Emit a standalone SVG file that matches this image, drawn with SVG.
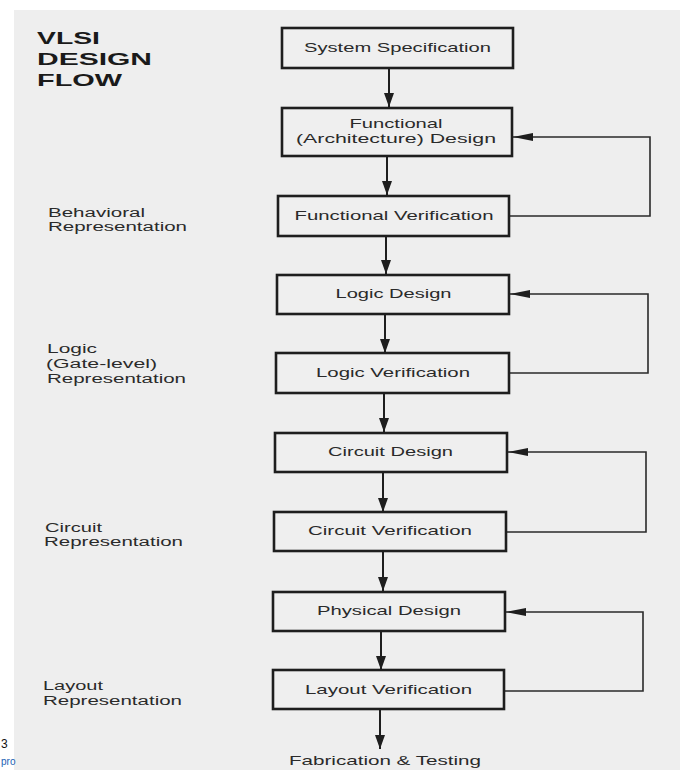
<svg xmlns="http://www.w3.org/2000/svg" width="680" height="770" viewBox="0 0 680 770">
<style>
.bg{fill:#eeeeee}
.box{fill:#efefef;stroke:#1e1e1e;stroke-width:2.6}
.t{font-family:"Liberation Sans",Arial,sans-serif;font-size:13px;fill:#2a2a2a;text-anchor:middle}
.lbl{font-family:"Liberation Sans",Arial,sans-serif;font-size:12.5px;fill:#2a2a2a}
.title{font-family:"Liberation Sans",Arial,sans-serif;font-size:17px;font-weight:bold;fill:#1a1a1a}
.down{fill:none;stroke:#1e1e1e;stroke-width:2;marker-end:url(#ad)}
.fb{fill:none;stroke:#2a2a2a;stroke-width:1.6;marker-end:url(#af)}
</style>
<defs>
<marker id="ad" markerUnits="userSpaceOnUse" markerWidth="14" markerHeight="10" refX="14" refY="5" orient="auto"><path d="M0,0 L14,5 L0,10 z" fill="#1e1e1e"/></marker>
<marker id="af" markerUnits="userSpaceOnUse" markerWidth="20" markerHeight="8" refX="20" refY="4" orient="auto"><path d="M0,0 L20,4 L0,8 z" fill="#1e1e1e"/></marker>
</defs>
<rect x="0" y="0" width="680" height="770" fill="#ffffff"/>
<rect class="bg" x="14" y="10" width="666" height="760"/>

<g id="title">
<text class="title" x="37" y="44" textLength="63" lengthAdjust="spacingAndGlyphs">VLSI</text>
<text class="title" x="37" y="65" textLength="115" lengthAdjust="spacingAndGlyphs">DESIGN</text>
<text class="title" x="37" y="86" textLength="85" lengthAdjust="spacingAndGlyphs">FLOW</text>
</g>

<g id="labels">
<g id="behavioral">
<text class="lbl" x="48" y="217" textLength="97" lengthAdjust="spacingAndGlyphs">Behavioral</text>
<text class="lbl" x="48" y="231" textLength="139" lengthAdjust="spacingAndGlyphs">Representation</text>
</g>
<g id="logic-rep">
<text class="lbl" x="47" y="353" textLength="50" lengthAdjust="spacingAndGlyphs">Logic</text>
<text class="lbl" x="46" y="368" textLength="111" lengthAdjust="spacingAndGlyphs">(Gate-level)</text>
<text class="lbl" x="47" y="383" textLength="139" lengthAdjust="spacingAndGlyphs">Representation</text>
</g>
<g id="circuit-rep">
<text class="lbl" x="45" y="532" textLength="57" lengthAdjust="spacingAndGlyphs">Circuit</text>
<text class="lbl" x="44" y="546" textLength="139" lengthAdjust="spacingAndGlyphs">Representation</text>
</g>
<g id="layout-rep">
<text class="lbl" x="43" y="690" textLength="60" lengthAdjust="spacingAndGlyphs">Layout</text>
<text class="lbl" x="43" y="705" textLength="139" lengthAdjust="spacingAndGlyphs">Representation</text>
</g>
</g>

<g id="connectors">
<path class="down" d="M389,69 V107"/>
<path class="down" d="M387,157 V195"/>
<path class="down" d="M386,237 V274"/>
<path class="down" d="M385,315 V353"/>
<path class="down" d="M384,394 V432"/>
<path class="down" d="M383,473 V512"/>
<path class="down" d="M383,552 V591"/>
<path class="down" d="M381,632 V670"/>
<path class="down" d="M380,710 V749"/>
<path class="fb" d="M510,216 H650 V137 H513"/>
<path class="fb" d="M510,373 H648 V294 H510"/>
<path class="fb" d="M507,532 H646 V452 H508"/>
<path class="fb" d="M505,691 H643 V612 H506"/>
</g>

<g id="n-system-spec">
<rect class="box" x="282" y="28" width="231" height="40"/>
<text class="t" x="397.5" y="52" textLength="187" lengthAdjust="spacingAndGlyphs">System Specification</text>
</g>
<g id="n-functional-design">
<rect class="box" x="282" y="108" width="230" height="48"/>
<text class="t" x="396" y="128" textLength="93" lengthAdjust="spacingAndGlyphs">Functional</text>
<text class="t" x="396" y="143" textLength="200" lengthAdjust="spacingAndGlyphs">(Architecture) Design</text>
</g>
<g id="n-functional-verification">
<rect class="box" x="278" y="196" width="231" height="40"/>
<text class="t" x="394" y="220" textLength="199" lengthAdjust="spacingAndGlyphs">Functional Verification</text>
</g>
<g id="n-logic-design">
<rect class="box" x="277" y="275" width="232" height="39"/>
<text class="t" x="393.5" y="298" textLength="116" lengthAdjust="spacingAndGlyphs">Logic Design</text>
</g>
<g id="n-logic-verification">
<rect class="box" x="276" y="353" width="233" height="40"/>
<text class="t" x="393" y="377" textLength="154" lengthAdjust="spacingAndGlyphs">Logic Verification</text>
</g>
<g id="n-circuit-design">
<rect class="box" x="275" y="433" width="232" height="39"/>
<text class="t" x="390.5" y="456" textLength="125" lengthAdjust="spacingAndGlyphs">Circuit Design</text>
</g>
<g id="n-circuit-verification">
<rect class="box" x="274" y="512" width="232" height="39"/>
<text class="t" x="390" y="535" textLength="164" lengthAdjust="spacingAndGlyphs">Circuit Verification</text>
</g>
<g id="n-physical-design">
<rect class="box" x="273" y="592" width="232" height="39"/>
<text class="t" x="389" y="615" textLength="144" lengthAdjust="spacingAndGlyphs">Physical Design</text>
</g>
<g id="n-layout-verification">
<rect class="box" x="273" y="670" width="231" height="39"/>
<text class="t" x="388.5" y="694" textLength="167" lengthAdjust="spacingAndGlyphs">Layout Verification</text>
</g>
<g id="n-fabrication">
<text class="t" x="385" y="765" textLength="192" lengthAdjust="spacingAndGlyphs">Fabrication &amp; Testing</text>
</g>

<g id="page-fragments">
<text x="1" y="748" font-family="Liberation Sans, Arial, sans-serif" font-size="12" fill="#111111">3</text>
<text x="1" y="765" font-family="Liberation Sans, Arial, sans-serif" font-size="10" fill="#1a5fb4">pro</text>
</g>
</svg>
